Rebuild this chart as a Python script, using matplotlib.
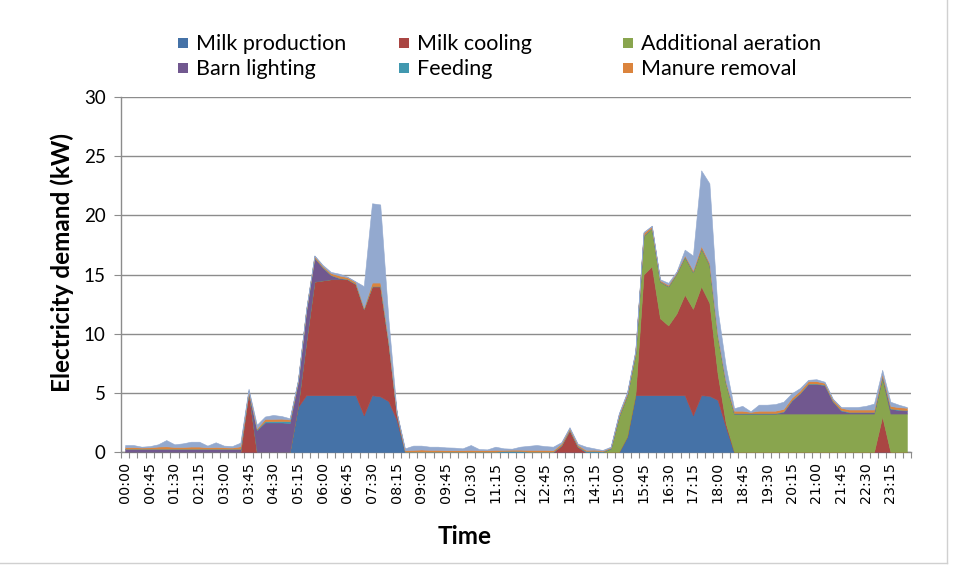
import numpy as np
import matplotlib
matplotlib.use("Agg")
import matplotlib.pyplot as plt
from matplotlib.patches import Rectangle
from matplotlib.lines import Line2D

# ---- data (kW per 15-minute interval, 00:00 .. 23:45) ----
milk_production = [
    0, 0, 0, 0, 0, 0, 0, 0, 0, 0, 0, 0,
    0, 0, 0, 0, 0, 0, 0, 0, 0, 3.8, 4.8, 4.8,
    4.8, 4.8, 4.8, 4.8, 4.8, 3.1, 4.8, 4.7, 4.3, 2.7, 0, 0,
    0, 0, 0, 0, 0, 0, 0, 0, 0, 0, 0, 0,
    0, 0, 0, 0, 0, 0, 0, 0, 0, 0, 0, 0,
    0, 1.3, 4.8, 4.8, 4.8, 4.8, 4.8, 4.8, 4.8, 3.1, 4.8, 4.75,
    4.4, 2.1, 0, 0, 0, 0, 0, 0, 0, 0, 0, 0,
    0, 0, 0, 0, 0, 0, 0, 0, 0, 0, 0, 0,
]
milk_cooling = [
    0, 0, 0, 0, 0, 0, 0, 0, 0, 0, 0, 0,
    0, 0, 0, 5.1, 0, 0, 0, 0, 0, 0.1, 4.5, 9.6,
    9.7, 9.8, 9.8, 9.8, 9.4, 9.0, 9.2, 9.3, 4.9, 0.5, 0, 0,
    0, 0, 0, 0, 0, 0, 0, 0, 0, 0, 0, 0,
    0, 0, 0, 0, 0, 0.55, 1.85, 0.45, 0, 0, 0, 0,
    0, 0, 0, 10.2, 10.9, 6.5, 5.9, 6.9, 8.5, 9.0, 9.2, 7.85,
    2.2, 0.3, 0, 0, 0, 0, 0, 0, 0, 0, 0, 0,
    0, 0, 0, 0, 0, 0, 0, 0, 3.0, 0, 0, 0,
]
additional_aeration = [
    0, 0, 0, 0, 0, 0, 0, 0, 0, 0, 0, 0,
    0, 0, 0, 0, 0, 0, 0, 0, 0, 0, 0, 0,
    0, 0, 0, 0, 0, 0, 0, 0, 0, 0, 0, 0,
    0, 0, 0, 0, 0, 0, 0, 0, 0, 0, 0, 0,
    0, 0, 0, 0, 0, 0, 0, 0, 0, 0, 0, 0.3,
    3.0, 3.5, 3.5, 3.3, 3.2, 3.1, 3.3, 3.4, 3.2, 3.1, 3.2, 3.2,
    3.2, 3.4, 3.25, 3.25, 3.25, 3.25, 3.25, 3.25, 3.25, 3.25, 3.25, 3.25,
    3.25, 3.25, 3.25, 3.25, 3.25, 3.25, 3.25, 3.25, 3.3, 3.25, 3.25, 3.25,
]
barn_lighting = [
    0.25, 0.25, 0.25, 0.25, 0.25, 0.25, 0.25, 0.25, 0.25, 0.25, 0.25, 0.25,
    0.25, 0.25, 0.25, 0, 1.85, 2.5, 2.5, 2.5, 2.45, 2.0, 2.6, 2.0,
    1.1, 0.35, 0.1, 0, 0, 0, 0, 0, 0, 0, 0, 0,
    0, 0, 0, 0, 0, 0, 0, 0, 0, 0, 0, 0,
    0, 0, 0, 0, 0, 0, 0, 0, 0, 0, 0, 0,
    0, 0, 0, 0, 0, 0, 0, 0, 0, 0, 0, 0,
    0, 0, 0, 0, 0, 0, 0, 0, 0.15, 1.1, 1.7, 2.5,
    2.5, 2.4, 1.0, 0.25, 0.1, 0.1, 0.1, 0.1, 0.1, 0.4, 0.3, 0.25,
]
feeding = [
    0.03, 0.03, 0.03, 0.03, 0.03, 0.03, 0.03, 0.03, 0.03, 0.03, 0.03, 0.03,
    0.03, 0.03, 0.03, 0, 0.05, 0.1, 0.1, 0.12, 0.15, 0.02, 0.02, 0.02,
    0.02, 0.02, 0.02, 0.02, 0.02, 0.02, 0.02, 0.02, 0.02, 0.02, 0.03, 0.03,
    0.03, 0.03, 0.03, 0.03, 0.03, 0.03, 0.03, 0.03, 0.03, 0.03, 0.08, 0.1,
    0.08, 0.03, 0.03, 0.03, 0.03, 0.03, 0.03, 0.03, 0.08, 0.1, 0.04, 0.03,
    0.04, 0.03, 0.03, 0.03, 0.03, 0.02, 0.03, 0.02, 0.03, 0.03, 0.03, 0.03,
    0.03, 0.03, 0.04, 0.04, 0.04, 0.04, 0.04, 0.04, 0.04, 0.04, 0.04, 0.04,
    0.04, 0.04, 0.04, 0.04, 0.04, 0.04, 0.04, 0.04, 0.04, 0.04, 0.04, 0.04,
]
manure_removal = [
    0.12, 0.14, 0.1, 0.12, 0.18, 0.2, 0.15, 0.15, 0.18, 0.18, 0.12, 0.15,
    0.12, 0.1, 0.2, 0.1, 0.1, 0.2, 0.2, 0.2, 0.15, 0.1, 0.1, 0.15,
    0.1, 0.15, 0.2, 0.15, 0.15, 0.1, 0.3, 0.3, 0.15, 0.1, 0.12, 0.15,
    0.18, 0.15, 0.15, 0.12, 0.12, 0.12, 0.15, 0.12, 0.12, 0.15, 0.1, 0.1,
    0.12, 0.15, 0.15, 0.15, 0.12, 0.15, 0.12, 0.12, 0.1, 0.1, 0.08, 0.05,
    0.15, 0.15, 0.15, 0.2, 0.15, 0.1, 0.1, 0.08, 0.1, 0.15, 0.2, 0.15,
    0.1, 0.1, 0.2, 0.2, 0.1, 0.2, 0.2, 0.2, 0.2, 0.2, 0.2, 0.2,
    0.2, 0.15, 0.15, 0.2, 0.2, 0.2, 0.2, 0.2, 0.2, 0.2, 0.2, 0.2,
]
other = [
    0.19, 0.17, 0.07, 0.10, 0.19, 0.53, 0.22, 0.30, 0.41, 0.41, 0.14, 0.39,
    0.14, 0.12, 0.31, 0.15, 0.3, 0.2, 0.33, 0.22, 0.1, 0.08, 0.05, 0.05,
    0.1, 0.1, 0.15, 0.05, 0.05, 1.8, 6.7, 6.6, 1.8, 0.05, 0.16, 0.36,
    0.33, 0.27, 0.27, 0.24, 0.22, 0.16, 0.41, 0.10, 0.07, 0.27, 0.13, 0.08,
    0.25, 0.34, 0.41, 0.32, 0.30, 0.1, 0.1, 0.1, 0.27, 0.11, 0.05, 0.07,
    0.1, 0.1, 0.1, 0.07, 0.05, 0.08, 0.17, 0.05, 0.47, 1.22, 6.37, 6.72,
    2.07, 1.27, 0.21, 0.41, 0.05, 0.51, 0.51, 0.56, 0.61, 0.37, 0.21, 0.11,
    0.16, 0.1, 0.06, 0.06, 0.21, 0.21, 0.31, 0.5, 0.31, 0.36, 0.21, 0.06,
]

series_labels = ["Milk production", "Milk cooling", "Additional aeration",
                 "Barn lighting", "Feeding", "Manure removal"]
tick_labels = ["00:00", "00:45", "01:30", "02:15", "03:00", "03:45", "04:30", "05:15",
               "06:00", "06:45", "07:30", "08:15", "09:00", "09:45", "10:30", "11:15",
               "12:00", "12:45", "13:30", "14:15", "15:00", "15:45", "16:30", "17:15",
               "18:00", "18:45", "19:30", "20:15", "21:00", "21:45", "22:30", "23:15"]
y_ticks = [0, 5, 10, 15, 20, 25, 30]

colors = ["#4572A7", "#AA4643", "#89A54E", "#71588F", "#4198AF", "#DB843D", "#93A9CF"]

W, H = 959, 567
fig = plt.figure(figsize=(W / 100, H / 100), dpi=100)
fig.patch.set_facecolor("white")

def fx(px):
    return px / W

def fy(py):
    return 1 - py / H

left, right, top, bottom = 121, 911, 97, 452
ax = fig.add_axes([fx(left), fy(bottom), fx(right) - fx(left), fy(top) - fy(bottom)])

x = np.arange(len(milk_production))
stack = [milk_production, milk_cooling, additional_aeration, barn_lighting,
         feeding, manure_removal, other]
polys = ax.stackplot(x, *stack, colors=colors, zorder=3)
for p, c in zip(polys, colors):
    p.set_edgecolor(c)
    p.set_linewidth(0.4)

ax.set_xlim(-0.5, len(x) - 0.5)
ax.set_ylim(0, 30)
ax.set_yticks(y_ticks)
ax.yaxis.grid(True, color="#8C8C8C", linewidth=1.0, zorder=0)
ax.set_axisbelow(True)

ax.set_xticks(x[::3], tick_labels, rotation=90, fontsize=10.3, family="DejaVu Sans")
ax.set_xticks(np.arange(-0.5, len(x), 1), minor=True)
ax.tick_params(axis="x", which="major", length=0, pad=7)
ax.tick_params(axis="x", which="minor", length=4, color="#8C8C8C", width=0.8)
ax.tick_params(axis="y", length=5, color="#8C8C8C", width=0.8, pad=6, labelsize=13.5)
for lab in ax.get_yticklabels():
    lab.set_family("Lato")

for s in ["top", "right"]:
    ax.spines[s].set_visible(False)
for s in ["left", "bottom"]:
    ax.spines[s].set_color("#8C8C8C")
    ax.spines[s].set_linewidth(1.0)

fig.text(fx(62), fy(262), "Electricity demand (kW)", rotation=90, ha="center",
         va="center", fontsize=17.5, fontweight="bold", family="Lato")
fig.text(fx(465), fy(537), "Time", ha="center", va="center", fontsize=17.5,
         fontweight="bold", family="Lato")

# legend (two rows of three)
leg_pos = [(183, 43), (404, 43), (628, 43), (183, 68), (404, 68), (628, 68)]
for (px, py), lab, c in zip(leg_pos, series_labels, colors):
    fig.patches.append(Rectangle((fx(px - 5), fy(py + 5)), 10 / W, 10 / H,
                                 transform=fig.transFigure, facecolor=c,
                                 edgecolor="none"))
    fig.text(fx(px + 13), fy(py + 1), lab, ha="left", va="center", fontsize=15.5,
             family="Lato")

# chart-area border
fig.add_artist(Line2D([fx(947), fx(947)], [fy(0), fy(563)], transform=fig.transFigure,
                      color="#D0D0D0", linewidth=1))
fig.add_artist(Line2D([fx(0), fx(947)], [fy(563), fy(563)], transform=fig.transFigure,
                      color="#D0D0D0", linewidth=1))

fig.savefig("out.png", dpi=100)
